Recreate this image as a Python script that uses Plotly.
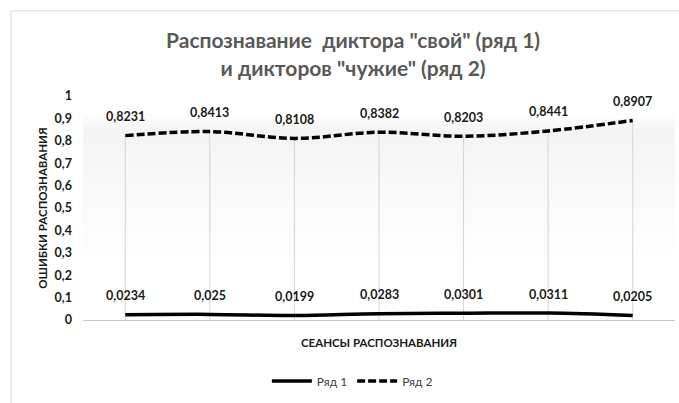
import plotly.graph_objects as go

categories = [1, 2, 3, 4, 5, 6, 7]
series1 = [0.0234, 0.025, 0.0199, 0.0283, 0.0301, 0.0311, 0.0205]
series2 = [0.8231, 0.8413, 0.8108, 0.8382, 0.8203, 0.8441, 0.8907]
series1_labels = ["0,0234", "0,025", "0,0199", "0,0283", "0,0301", "0,0311", "0,0205"]
series2_labels = ["0,8231", "0,8413", "0,8108", "0,8382", "0,8203", "0,8441", "0,8907"]
y_ticks = [0, 0.1, 0.2, 0.3, 0.4, 0.5, 0.6, 0.7, 0.8, 0.9, 1]
y_tick_labels = ["0", "0,1", "0,2", "0,3", "0,4", "0,5", "0,6", "0,7", "0,8", "0,9", "1"]

FONT = "Lato"

# drop lines from the top series down to the axis
drop_x, drop_y = [], []
for c, v in zip(categories, series2):
    drop_x += [c, c, None]
    drop_y += [0, v, None]

fig = go.Figure()
fig.add_trace(go.Scatter(x=drop_x, y=drop_y, mode="lines",
                         line=dict(color="#d4d4d4", width=1),
                         showlegend=False, hoverinfo="skip"))
fig.add_trace(go.Scatter(x=categories, y=series1, name="Ряд 1", mode="lines",
                         line=dict(color="black", width=3.5, shape="spline")))
fig.add_trace(go.Scatter(x=categories, y=series2, name="Ряд 2", mode="lines",
                         line=dict(color="black", width=3.5, dash="8px,3px", shape="spline")))

annotations = []
for c, v, t in list(zip(categories, series1, series1_labels)) + list(zip(categories, series2, series2_labels)):
    annotations.append(dict(x=c, y=v, text=t, showarrow=False, yshift=19,
                            font=dict(family=FONT, size=12.5, color="#1a1a1a", weight="bold")))

# chart border
shapes = [dict(type="rect", xref="paper", yref="paper", x0=-0.1216, x1=1.2,
               y0=-0.6, y1=1.38, line=dict(color="#d9d9d9", width=1), layer="below",
               fillcolor="white")]
# subtle gradient in the plot area (light gray near top fading to white)
n = 30
top, peak, bottom = 0.92, 0.84, 0.25
for i in range(n):
    y1 = top - (top - bottom) * i / n
    y0 = top - (top - bottom) * (i + 1) / n
    ym = (y0 + y1) / 2
    if ym > peak:
        f = (top - ym) / (top - peak)
    else:
        f = (ym - bottom) / (peak - bottom)
    g = int(round(255 - 11 * max(0.0, min(1.0, f))))
    shapes.append(dict(type="rect", xref="paper", yref="paper", x0=0, x1=1, y0=y0, y1=y1,
                       line=dict(width=0), fillcolor=f"rgb({g},{g},{g})", layer="below"))

fig.update_layout(
    width=679, height=403,
    margin=dict(l=83, r=4, t=96, b=83),
    paper_bgcolor="white",
    plot_bgcolor="rgba(0,0,0,0)",
    font=dict(family=FONT, color="black"),
    title=dict(text="Распознавание  диктора \"свой\" (ряд 1)<br>и дикторов \"чужие\" (ряд 2)",
               xref="container", x=0.52, xanchor="center", y=0.88, yanchor="middle",
               font=dict(family=FONT, size=21, color="#595959", weight="bold")),
    xaxis=dict(range=[0.5, 7.5], showticklabels=False, showgrid=False, zeroline=False,
               showline=False, ticks="",
               title=dict(text="СЕАНСЫ РАСПОЗНАВАНИЯ", standoff=18,
                          font=dict(family=FONT, size=11.5, color="#1a1a1a", weight="bold"))),
    yaxis=dict(range=[0, 1], tickvals=y_ticks, ticktext=y_tick_labels,
               showgrid=False, zeroline=True, zerolinecolor="#c8c8c8", zerolinewidth=1,
               showline=False, ticks="", ticklabelstandoff=10,
               tickfont=dict(family=FONT, size=12.5, color="#1a1a1a", weight="bold"),
               title=dict(text="ОШИБКИ РАСПОЗНАВАНИЯ", standoff=4,
                          font=dict(family=FONT, size=11.5, color="#1a1a1a", weight="bold"))),
    legend=dict(orientation="h", x=0.455, xanchor="center", y=-0.272, yanchor="middle",
                font=dict(family=FONT, size=12, color="#404040"), itemwidth=40,
                bgcolor="rgba(0,0,0,0)"),
    shapes=shapes,
    annotations=annotations,
)

fig.write_html("out.html", config={"displayModeBar": False},
               post_script="document.body.style.margin='0';")
